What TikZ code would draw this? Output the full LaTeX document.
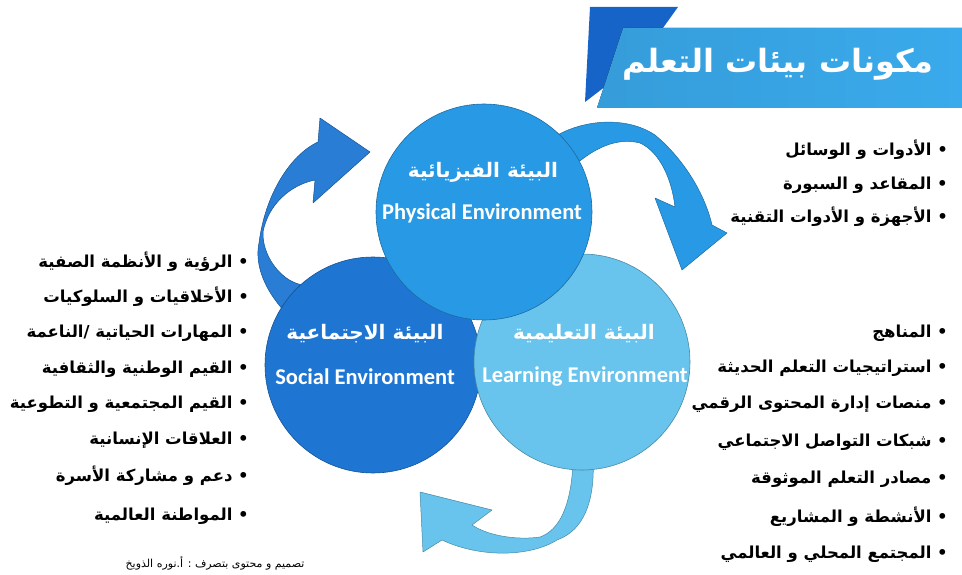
\documentclass[tikz,border=0pt]{standalone}
\usepackage{fontspec}
\usepackage{tikz}
\usetikzlibrary{positioning}
\newfontfamily\arabicfont[Script=Arabic]{DejaVu Sans}
\newfontfamily\enfont{Carlito}
\TeXXeTstate=1
\newcommand{\rtl}[1]{\beginR #1\endR}

\definecolor{physblue}{RGB}{40,153,228}
\definecolor{socblue}{RGB}{30,118,210}
\definecolor{learnblue}{RGB}{104,196,236}
\definecolor{bannerblue}{RGB}{58,170,236}
\definecolor{tabblue}{RGB}{22,100,200}

\pgfdeclarelayer{back}
\pgfsetlayers{back,main}

\tikzstyle{env} = [circle, minimum size=216pt, inner sep=0pt, line width=0.6pt]
\tikzstyle{artitle} = [text=white, inner sep=0pt, font=\arabicfont\bfseries\fontsize{20}{20}\selectfont]
\tikzstyle{entitle} = [text=white, inner sep=0pt, font=\enfont\bfseries\fontsize{22.5}{22.5}\selectfont]
\tikzstyle{item} = [anchor=east, inner sep=0pt, text height=13pt, text depth=5pt,
                    font=\arabicfont\bfseries\fontsize{16.5}{16.5}\selectfont]
\tikzstyle{flow} = [line width=0.5pt, line join=round]

\begin{document}
\begin{tikzpicture}[x=1pt, y=-1pt]
    \path[use as bounding box] (0,0) rectangle (962,575);

    % title banner
    \fill[tabblue] (590,7) -- (678,7) -- (640,60) -- (585,102) -- cycle;
    \fill[left color=bannerblue!92!black, right color=bannerblue]
        (623,28) -- (962,28) -- (962,108) -- (597,108) -- cycle;
    \node[text=white, font=\arabicfont\bfseries\fontsize{32}{32}\selectfont] (title) at (778,64) {\rtl{مكونات بيئات التعلم}};

    % the three environments
    \node[env, fill=socblue, draw=socblue!70!black] (soc) at (373,365) {};
    \node[env, fill=learnblue, draw=learnblue!70!black] (learn) at (582,362) {};
    \node[env, fill=physblue, draw=physblue!70!black] (phys) at (484,212) {};

    \node[artitle] (physar) at (483,172) {\rtl{البيئة الفيزيائية}};
    \node[entitle] (physen) at (482,213) {Physical Environment};
    \node[artitle] (socar) at (365,334) {\rtl{البيئة الاجتماعية}};
    \node[entitle] (socen) at (365,377) {Social Environment};
    \node[artitle] (learnar) at (584,334) {\rtl{البيئة التعليمية}};
    \node[entitle] (learnen) at (585,377) {Learning Environment};

    % curved arrows between them
    \begin{pgfonlayer}{back}
    \filldraw[flow, fill=socblue!95!white, draw=socblue!70!black]
        (soc.148) .. controls (262,285) and (255,262) .. (259,243)
        .. controls (265,195) and (290,155) .. (318,142)
        -- (320,118) -- (370,152) -- (313,203) -- (315,180)
        .. controls (290,185) and (268,205) .. (263,232)
        .. controls (262,255) and (280,280) .. (soc.132) -- cycle;
    \filldraw[flow, fill=physblue, draw=physblue!70!black]
        (phys.46) .. controls (590,118) and (630,118) .. (655,135)
        .. controls (685,160) and (705,195) .. (712,225)
        -- (727,233) -- (682,270) -- (655,198) -- (675,207)
        .. controls (672,180) and (660,152) .. (640,143)
        .. controls (620,138) and (600,145) .. (phys.28) -- cycle;
    \filldraw[flow, fill=learnblue, draw=learnblue!70!black]
        (learn.-84) .. controls (593,500) and (585,530) .. (557,540)
        .. controls (530,557) and (480,558) .. (442,540)
        -- (423,552) -- (420,492) -- (492,510) -- (472,525)
        .. controls (490,537) and (520,540) .. (540,537)
        .. controls (560,530) and (570,505) .. (learn.-95) -- cycle;
    \end{pgfonlayer}

    % physical items
    \node[item] (p1) at (948,152) {\rtl{• الأدوات و الوسائل}};
    \node[item, below=15pt of p1.south east, anchor=north east] (p2) {\rtl{• المقاعد و السبورة}};
    \node[item, below=15pt of p2.south east, anchor=north east] (p3) {\rtl{• الأجهزة و الأدوات التقنية}};

    % social items
    \node[item] (s1) at (249,263) {\rtl{• الرؤية و الأنظمة الصفية}};
    \node[item, below=17pt of s1.south east, anchor=north east] (s2) {\rtl{• الأخلاقيات و السلوكيات}};
    \node[item, below=17pt of s2.south east, anchor=north east] (s3) {\rtl{• المهارات الحياتية /الناعمة}};
    \node[item, below=17pt of s3.south east, anchor=north east] (s4) {\rtl{• القيم الوطنية والثقافية}};
    \node[item, below=17pt of s4.south east, anchor=north east] (s5) {\rtl{• القيم المجتمعية و التطوعية}};
    \node[item, below=17pt of s5.south east, anchor=north east] (s6) {\rtl{• العلاقات الإنسانية}};
    \node[item, below=19pt of s6.south east, anchor=north east] (s7) {\rtl{•  دعم و مشاركة الأسرة}};
    \node[item, below=21pt of s7.south east, anchor=north east] (s8) {\rtl{• المواطنة العالمية}};

    % learning items
    \node[item] (l1) at (948,333) {\rtl{• المناهج}};
    \node[item, below=17pt of l1.south east, anchor=north east] (l2) {\rtl{• استراتيجيات التعلم الحديثة}};
    \node[item, below=18pt of l2.south east, anchor=north east] (l3) {\rtl{• منصات إدارة المحتوى الرقمي}};
    \node[item, below=19pt of l3.south east, anchor=north east] (l4) {\rtl{• شبكات التواصل الاجتماعي}};
    \node[item, below=19pt of l4.south east, anchor=north east] (l5) {\rtl{• مصادر التعلم الموثوقة}};
    \node[item, below=20pt of l5.south east, anchor=north east] (l6) {\rtl{• الأنشطة و المشاريع}};
    \node[item, below=18pt of l6.south east, anchor=north east] (l7) {\rtl{• المجتمع المحلي و العالمي}};

    \node[font=\arabicfont\fontsize{11}{11}\selectfont] (credit) at (215,563) {\rtl{تصميم و محتوى بتصرف : أ.نوره الذويخ}};
\end{tikzpicture}
\end{document}
